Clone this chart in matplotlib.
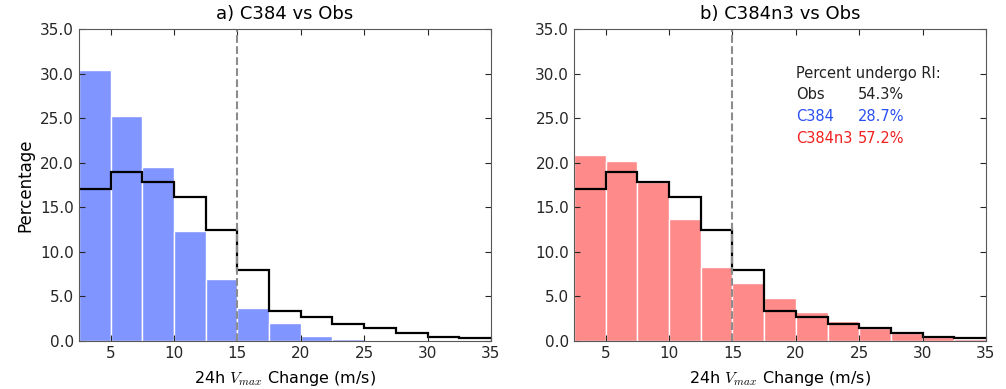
import numpy as np
import matplotlib
matplotlib.use("Agg")
import matplotlib.pyplot as plt

plt.rcParams['mathtext.fontset'] = 'cm'

# bin edges of 24h Vmax change (m/s)
edges = np.arange(2.5, 35.1, 2.5)

# percentages
obs = [17.1, 19.0, 17.8, 16.2, 12.5, 8.0, 3.4, 2.7, 1.9, 1.5, 0.9, 0.45, 0.3]
c384 = [30.4, 25.2, 19.5, 12.3, 7.0, 3.7, 2.0, 0.6, 0.2, 0.0, 0.0, 0.0, 0.0]
c384n3 = [20.9, 20.2, 17.8, 13.7, 8.3, 6.5, 4.8, 3.3, 2.2, 1.5, 0.9, 0.4, 0.25]

titles = ["a) C384 vs Obs", "b) C384n3 vs Obs"]
bar_colors = ["#8095ff", "#ff8a8a"]

ri_names = ["Obs", "C384", "C384n3"]
ri_values = ["54.3%", "28.7%", "57.2%"]
ri_colors = ["#222222", "#2a4ff0", "#f02020"]

fig = plt.figure(figsize=(10.06, 3.89), dpi=100)
ax1 = fig.add_axes([0.0785, 0.1234, 0.4095, 0.802])
ax2 = fig.add_axes([0.5706, 0.1234, 0.4095, 0.802])

for ax, model, col, title in zip([ax1, ax2], [c384, c384n3], bar_colors, titles):
    ax.bar(edges[:-1], model, width=2.5, align='edge', color=col,
           edgecolor='white', linewidth=1)
    ax.stairs(obs, edges, color='black', linewidth=1.6, baseline=None)
    ax.axvline(15, color='0.55', linestyle='--', linewidth=1.5)
    ax.set_xlim(2.5, 35)
    ax.set_ylim(0, 35)
    ax.set_xticks([5, 10, 15, 20, 25, 30, 35])
    ax.set_yticks(np.arange(0, 35.1, 5))
    ax.set_yticklabels(["%.1f" % v for v in np.arange(0, 35.1, 5)])
    ax.tick_params(direction='in', top=True, right=True, labelsize=11,
                   length=4, colors='0.15')
    for s in ax.spines.values():
        s.set_color('0.35')
    ax.set_title(title, fontsize=13, pad=7)
    ax.set_xlabel(r"24h $V_{max}$ Change (m/s)", fontsize=11.5, labelpad=6)

ax1.set_ylabel("Percentage", fontsize=12)

ax2.text(20.0, 30.0, "Percent undergo RI:", fontsize=10.5, color='#222222',
         va='center')
for i, (n, v, c) in enumerate(zip(ri_names, ri_values, ri_colors)):
    y = 27.7 - 2.5 * i
    ax2.text(20.0, y, n, fontsize=10.5, color=c, va='center')
    ax2.text(24.9, y, v, fontsize=10.5, color=c, va='center')

fig.savefig("out.png", dpi=100)
